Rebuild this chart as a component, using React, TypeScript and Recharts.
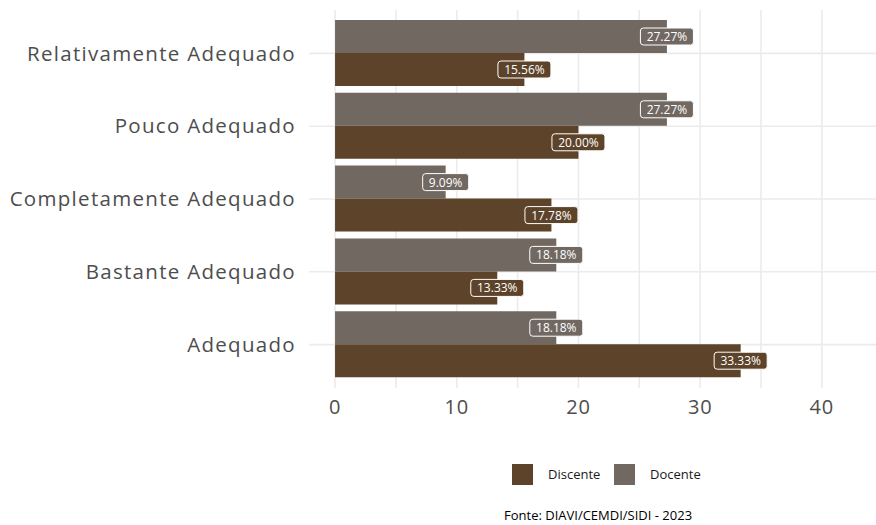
import React from "react";
import { BarChart, Bar, XAxis, YAxis, CartesianGrid, LabelList } from "recharts";

const categories = [
  "Relativamente Adequado",
  "Pouco Adequado",
  "Completamente Adequado",
  "Bastante Adequado",
  "Adequado",
];
const docente = [27.27, 27.27, 9.09, 18.18, 18.18];
const discente = [15.56, 20.0, 17.78, 13.33, 33.33];
const xTicks = [0, 5, 10, 15, 20, 25, 30, 35, 40];

const DISCENTE_COLOR = "#5c4329";
const DOCENTE_COLOR = "#716862";
const FONT = "'Open Sans', sans-serif";

const data = categories.map((name, i) => ({
  name,
  Docente: docente[i],
  Discente: discente[i],
}));

// boxed percentage label centred on the end of the bar, like geom_label
const makeLabel = (fill: string) => (props: any) => {
  const { x, y, width, height, value } = props;
  const text = `${Number(value).toFixed(2)}%`;
  const w = text.length * 7 + 11;
  const h = 17;
  const cx = x + width;
  const cy = y + height / 2;
  return (
    <g>
      <rect
        x={cx - w / 2}
        y={cy - h / 2}
        width={w}
        height={h}
        rx={3}
        ry={3}
        fill={fill}
        stroke="#ffffff"
        strokeWidth={1}
      />
      <text
        x={cx}
        y={cy}
        textAnchor="middle"
        dominantBaseline="central"
        fill="#ffffff"
        fontSize={12}
        fontFamily={FONT}
      >
        {text}
      </text>
    </g>
  );
};

const App = () => {
  return (
    <div style={{ position: "absolute", left: 0, top: 0, width: 876, height: 525, fontFamily: FONT }}>
      <BarChart
        width={876}
        height={525}
        data={data}
        layout="vertical"
        margin={{ top: 10, right: 0, bottom: 97, left: 0 }}
        barGap={0}
        barSize={33}
      >
        <CartesianGrid stroke="#ebebeb" strokeWidth={1.6} syncWithTicks />
        <XAxis
          type="number"
          domain={[-2.14, 44.45]}
          ticks={xTicks}
          tickFormatter={(v: number) => (v % 10 === 0 ? String(v) : "")}
          axisLine={false}
          tickLine={false}
          tickMargin={6}
          height={40}
          tick={{ fontSize: 20, fill: "#4d4d4d", fontFamily: FONT, letterSpacing: 0.8 }}
          allowDataOverflow
        />
        <YAxis
          type="category"
          dataKey="name"
          width={309}
          axisLine={false}
          tickLine={false}
          tickMargin={7}
          padding={{ top: 7, bottom: 7 }}
          tick={{ fontSize: 20.5, fill: "#4d4d4d", fontFamily: FONT, letterSpacing: 1.3 }}
          interval={0}
        />
        <Bar dataKey="Docente" fill={DOCENTE_COLOR} isAnimationActive={false}>
          <LabelList dataKey="Docente" content={makeLabel(DOCENTE_COLOR)} />
        </Bar>
        <Bar dataKey="Discente" fill={DISCENTE_COLOR} isAnimationActive={false}>
          <LabelList dataKey="Discente" content={makeLabel(DISCENTE_COLOR)} />
        </Bar>
      </BarChart>
      <div style={{ position: "absolute", left: 512, top: 464, width: 21, height: 21, background: DISCENTE_COLOR }} />
      <div style={{ position: "absolute", left: 548, top: 465, fontSize: 13, lineHeight: "18px", color: "#1a1a1a" }}>
        Discente
      </div>
      <div style={{ position: "absolute", left: 614, top: 464, width: 21, height: 21, background: DOCENTE_COLOR }} />
      <div style={{ position: "absolute", left: 650, top: 465, fontSize: 13, lineHeight: "18px", color: "#1a1a1a" }}>
        Docente
      </div>
      <div style={{ position: "absolute", left: 504, top: 508, fontSize: 13, lineHeight: "15px", color: "#000000" }}>
        Fonte: DIAVI/CEMDI/SIDI - 2023
      </div>
    </div>
  );
};

export default App;
